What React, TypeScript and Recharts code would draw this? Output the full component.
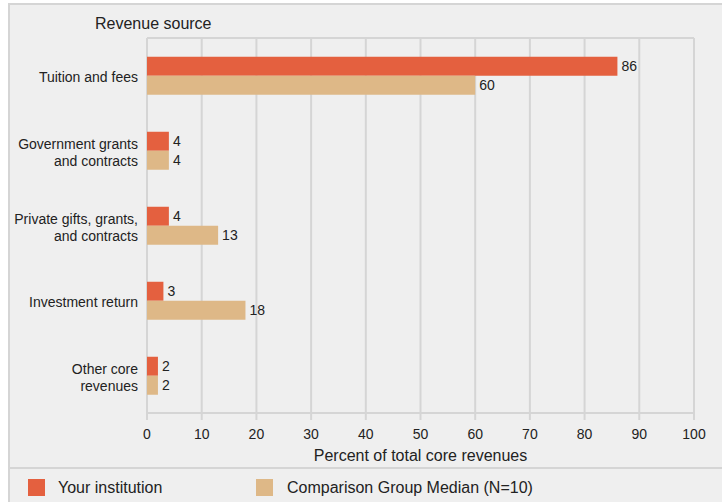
import { BarChart, Bar, XAxis, YAxis, CartesianGrid, LabelList } from "recharts";

const categories = [
  "Tuition and fees",
  "Government grants\nand contracts",
  "Private gifts, grants,\nand contracts",
  "Investment return",
  "Other core\nrevenues",
];
const yourInstitution = [86, 4, 4, 3, 2];
const comparisonMedian = [60, 4, 13, 18, 2];
const xTicks = [0, 10, 20, 30, 40, 50, 60, 70, 80, 90, 100];

const ORANGE = "#e4603f";
const TAN = "#deb887";
const GRID = "#d5d5d5";
const TEXT = "#222";
const FONT = "'Liberation Sans', Arial, sans-serif";

const data = categories.map((name, i) => ({
  name,
  mine: yourInstitution[i],
  median: comparisonMedian[i],
}));

function CategoryTick({ x, y, payload }: any) {
  const lines = String(payload.value).split("\n");
  const lh = 17;
  const start = y + 2 - ((lines.length - 1) * lh) / 2;
  return (
    <text x={x} y={start} textAnchor="end" fontSize={14} fill={TEXT} fontFamily={FONT}>
      {lines.map((l, i) => (
        <tspan key={i} x={x} y={start + i * lh} dy="0.35em">
          {l}
        </tspan>
      ))}
    </text>
  );
}

export default function App() {
  return (
    <div style={{ position: "absolute", left: 0, top: 0, width: 722, height: 502, background: "#fff", fontFamily: FONT }}>
      <div
        style={{
          position: "absolute",
          left: 8,
          top: 3,
          width: 714,
          height: 499,
          boxSizing: "border-box",
          borderLeft: `2px solid ${GRID}`,
          borderTop: `2px solid ${GRID}`,
          background: "#efefef",
        }}
      />
      <div style={{ position: "absolute", left: 95, top: 14, fontSize: 16, color: TEXT, lineHeight: "20px" }}>
        Revenue source
      </div>
      <div style={{ position: "absolute", left: 0, top: 0 }}>
        <BarChart
          width={722}
          height={465}
          data={data}
          layout="vertical"
          margin={{ top: 38, right: 28, left: 0, bottom: 0 }}
          barCategoryGap="25%"
          barGap={0}
        >
          <CartesianGrid stroke={GRID} strokeWidth={2} horizontalPoints={[38]} />
          <XAxis
            type="number"
            domain={[0, 100]}
            ticks={xTicks}
            interval={0}
            height={52}
            tickSize={7}
            tickMargin={9}
            tick={{ fontSize: 14, fill: TEXT, fontFamily: FONT }}
            axisLine={{ stroke: GRID, strokeWidth: 2 }}
            tickLine={{ stroke: GRID, strokeWidth: 2 }}
            label={{
              value: "Percent of total core revenues",
              position: "insideBottom",
              offset: 4,
              fontSize: 16,
              fill: TEXT,
              fontFamily: FONT,
            }}
          />
          <YAxis
            type="category"
            dataKey="name"
            width={147}
            tickSize={0}
            tickMargin={9}
            axisLine={false}
            tickLine={false}
            interval={0}
            tick={<CategoryTick />}
          />
          <Bar dataKey="mine" fill={ORANGE} isAnimationActive={false}>
            <LabelList dataKey="mine" position="right" offset={4} fontSize={14} fill={TEXT} fontFamily={FONT} />
          </Bar>
          <Bar dataKey="median" fill={TAN} isAnimationActive={false}>
            <LabelList dataKey="median" position="right" offset={4} fontSize={14} fill={TEXT} fontFamily={FONT} />
          </Bar>
        </BarChart>
      </div>
      <div style={{ position: "absolute", left: 8, top: 467, width: 714, height: 2, background: GRID }} />
      <div style={{ position: "absolute", left: 28, top: 479, width: 17, height: 17, background: ORANGE }} />
      <div style={{ position: "absolute", left: 58, top: 478, fontSize: 16, lineHeight: "20px", color: TEXT }}>
        Your institution
      </div>
      <div style={{ position: "absolute", left: 256, top: 479, width: 17, height: 17, background: TAN }} />
      <div style={{ position: "absolute", left: 287, top: 478, fontSize: 16, lineHeight: "20px", color: TEXT }}>
        Comparison Group Median (N=10)
      </div>
    </div>
  );
}
